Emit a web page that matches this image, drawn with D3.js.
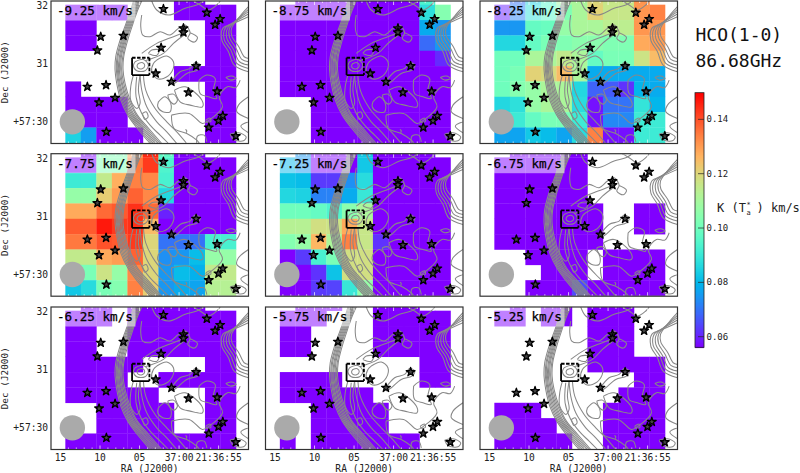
<!DOCTYPE html>
<html><head><meta charset="utf-8">
<script src="https://cdn.jsdelivr.net/npm/d3@7/dist/d3.min.js"></script>
<style>html,body{margin:0;padding:0;background:#fff}svg{display:block}text{font-family:"DejaVu Sans Mono",monospace;fill:#222}</style>
</head><body><svg id="c" width="800" height="473"></svg>
<script>
// velocity channels, km/s
const velocities = ["-9.25","-8.75","-8.25","-7.75","-7.25","-6.75","-6.25","-5.75","-5.25"];
const _ = null, p = 0.056;
// integrated intensity K km/s: row 0 is the clipped top row, 11 columns
const ch925 = [
[_,_,_,_,_,_,_,p,p,_,_],[p,p,p,p,_,_,_,p,p,p,p],[p,p,_,_,_,_,_,_,_,p,p],[p,p,_,_,_,_,_,_,_,p,p],[_,_,_,_,_,_,_,_,_,p,p],
[_,_,_,_,_,_,_,p,p,p,p],[p,_,_,_,_,_,_,_,_,p,p],[p,p,p,p,_,_,_,_,_,p,p],[p,p,p,p,_,_,_,_,_,p,p],[.085,.076,p,p,p,_,_,_,_,p,p]];
const ch875 = [
[_,p,p,p,p,p,p,p,p,.094,_],[p,p,p,p,p,p,p,p,p,.088,.104],[p,p,p,p,p,p,p,p,p,.078,.075],[p,p,p,p,p,p,p,p,p,.069,.075],[p,p,p,p,p,p,p,p,p,p,.061],
[p,p,p,p,p,p,p,p,p,p,p],[p,p,p,p,p,p,p,p,p,p,p],[_,_,p,p,p,p,p,p,p,p,p],[_,_,p,p,p,p,p,p,p,p,p],[_,_,p,p,p,p,p,p,p,p,p]];
const ch825 = [
[_,.07,.085,.095,.11,.111,.12,.116,.116,.131,_],[.06,.072,.088,.095,.103,.111,.121,.116,.116,.131,.134],
[.075,.075,.098,.099,.107,.111,.111,.114,.114,.131,.131],[.086,.086,.098,.102,.103,.105,.105,.103,.103,.128,.13],
[.1,.1,.111,.111,.115,.111,.098,.102,.102,.117,.125],[.1,.102,.121,.119,.125,.111,.078,.078,.078,.078,.078],
[.1,.104,.107,.111,.111,.086,.068,.067,.062,.08,.078],[.086,.088,.107,.111,.111,.087,.058,.07,.07,.089,.08],
[.091,.091,.098,.102,.102,.091,.058,.073,.073,.091,.091],[.077,.077,.083,.081,.077,.087,.134,.058,.058,.091,.091]];
const ch775 = [
[_,p,.103,.103,.13,.145,.097,p,p,_,_],[p,p,.103,.103,.135,.143,.094,p,p,p,p],
[.091,.091,.115,.127,.134,.133,.093,p,p,p,p],[.107,.107,.122,.13,.138,.133,.086,p,p,p,p],
[.128,.128,.137,.139,.144,.137,.06,p,p,p,p],[.139,.139,.147,.143,.144,.125,p,p,p,p,p],
[.135,.135,.14,.139,.143,.12,.07,.07,.07,.093,.093],[.115,.115,.128,.13,.138,.12,.074,.075,.081,.107,.107],
[.102,.102,.117,.107,.133,.12,.075,.081,.079,.115,.115],[.083,.087,.102,.104,.134,.122,.075,.078,.077,.113,.113]];
const ch725 = [
[_,.075,p,p,p,.083,p,p,p,p,_],[.08,.075,p,p,p,.083,p,p,p,p,p],
[.082,.081,.063,.063,.074,.087,p,p,p,p,p],[.086,.085,.072,.072,.078,.09,p,p,p,p,p],
[.1,.1,.098,.094,.105,.111,p,p,p,p,p],[.113,.113,.118,.117,.128,.116,p,p,p,p,p],
[.104,.107,.126,.111,.134,.116,.062,p,p,p,p],[p,.063,.093,.102,.118,.118,p,p,p,p,p],
[p,p,.062,.082,.118,.118,p,p,p,p,p],[p,p,.063,.064,.09,.107,p,p,p,p,p]];
const ch675 = [
[_,p,p,p,p,p,_,_,_,_,_],[p,p,p,p,p,p,_,_,_,_,_],[p,p,p,p,p,p,_,_,_,_,_],[p,p,p,p,p,p,_,_,_,_,_],[p,p,p,p,p,p,p,_,_,p,p],
[p,p,p,p,p,p,p,_,_,p,p],[p,p,p,p,p,p,p,_,_,_,_],[_,_,p,p,p,p,_,p,p,p,p],[_,_,_,p,p,p,_,p,p,p,p],[_,_,p,p,p,.065,p,p,p,p,p]];
const ch625 = [
[_,p,p,_,p,p,p,p,p,_,_],[p,p,p,_,p,p,p,p,p,p,p],[p,p,_,_,p,p,p,p,p,p,p],[p,p,_,_,p,p,p,p,p,p,p],[p,p,p,p,p,_,_,_,_,p,p],
[p,p,p,p,_,_,p,p,p,p,p],[p,p,p,p,p,p,_,_,_,p,p],[_,_,p,p,p,p,p,_,_,p,p],[_,_,p,p,p,p,p,_,_,p,p],[p,p,p,p,p,p,p,p,p,p,p]];
const ch575 = [
[_,p,p,p,_,_,p,p,p,_,_],[p,p,p,_,_,_,p,p,p,p,p],[p,p,_,_,_,_,p,p,p,p,p],[p,p,_,_,_,_,p,p,p,p,p],[_,_,_,_,_,_,_,_,_,p,p],
[p,p,p,p,_,_,_,_,_,p,p],[p,p,p,p,p,p,_,_,_,_,_],[_,_,p,p,p,p,p,_,_,_,_],[_,_,p,p,p,p,p,_,_,_,_],[p,_,p,p,p,p,p,p,p,_,_]];
const ch525 = [
[_,p,_,p,p,_,p,p,p,_,_],[p,p,_,p,p,_,p,p,p,_,_],[_,_,_,_,_,_,p,p,p,_,_],[_,_,_,_,_,_,p,p,p,_,_],[_,_,_,_,_,_,p,p,p,p,p],
[_,_,_,_,_,_,_,_,_,p,p],[_,_,_,_,_,_,_,_,p,p,p],[p,p,p,_,_,_,_,p,p,p,p],[p,p,p,p,_,_,_,p,p,p,p],[p,p,p,p,p,_,_,p,p,p,p]];
const channels = [ch925,ch875,ch825,ch775,ch725,ch675,ch625,ch575,ch525];

// sky positions in map units (1/3 arcsec-like offsets from the map origin)
const stars = [[490,27],[620,38],[660,57],[645,74],[550,85],[550,97],[302,110],[370,107],[292,151],[483,143],[588,198],[467,220],[514,245],[262,260],[318,255],[565,277],[651,274],[345,293],[297,307],[668,347],[655,362],[626,382],[319,395],[707,408]];
const ridgeY = [3,30,70,120,170,210,250,300,345,385,430];
const ridgeX = [
[400,392,378,360,347,345,350,362,383,412,450],[403,395,381,364,351,349,354,366,387,417,455],
[407,398,384,367,354,352,357,370,391,422,460],[410,401,387,370,358,355,360,374,395,427,465],
[414,404,390,373,361,358,364,378,399,431,470],[417,407,393,376,364,362,367,382,403,436,475],
[421,410,396,379,368,365,371,386,408,441,480],[425,413,399,383,371,369,375,390,412,446,485]];
const contours = [
[[405,185],[430,178],[445,195],[435,212],[410,212],[400,197],[405,185]],
[[415,190],[428,188],[434,197],[426,206],[414,204],[411,197],[415,190]],
[[400,225],[392,260],[392,300],[410,325],[420,310],[415,270],[420,225]],
[[410,230],[408,290],[425,340],[450,375],[480,405],[505,430]],
[[420,225],[425,270],[440,320],[470,365],[500,395],[530,430]],
[[430,225],[437,270],[465,325],[500,365],[530,395],[560,430]],
[[427,340],[438,335],[444,350],[434,358],[427,340]],
[[425,45],[422,78],[428,105],[450,110],[480,95],[510,105],[535,85],[555,75],[570,98],[563,115],[583,126],[592,112],[570,98]],
[[455,3],[470,30],[505,45],[555,25],[590,15],[610,3]],
[[580,3],[600,15],[625,30],[650,15],[660,3]],
[[425,160],[470,130],[520,110],[550,98]],
[[435,182],[490,160],[520,130],[552,105]],
[[445,160],[470,166],[477,150],[455,150],[445,160]],
[[470,180],[500,168],[520,185],[515,215],[490,235],[470,235],[455,215],[460,190],[470,180]],
[[510,250],[540,215],[570,205],[585,187],[600,195],[592,210],[560,220],[530,245],[515,255]],
[[475,305],[495,290],[512,310],[510,335],[488,335],[473,320],[475,305]],
[[503,285],[520,282],[532,300],[522,312],[508,300],[503,285]],
[[523,270],[555,260],[605,300],[607,320],[570,315],[540,305],[523,270]],
[[597,240],[620,225],[645,235],[640,270],[650,295],[625,290],[600,280],[597,240]],
[[677,232],[695,228],[708,235],[690,240],[677,232]],
[[514,345],[567,340],[607,370],[627,360],[667,320],[657,290],[682,260],[707,262],[720,240]],
[[514,345],[522,385],[560,400],[590,420],[598,430]],
[[590,430],[592,408],[612,405],[620,425]],
[[617,360],[630,354],[632,364],[620,366],[617,360]],
[[745,50],[700,70],[668,85],[665,120],[685,155],[702,195],[745,215]],
[[745,42],[705,65],[675,85],[672,118],[692,150],[710,190],[745,205]],
[[745,35],[710,60],[682,85],[680,115],[700,148],[718,185],[745,195]],
[[745,28],[715,55],[688,85],[688,112],[708,145],[725,178],[745,185]],
[[745,20],[720,48],[694,85],[695,108],[716,140],[732,170],[745,175]],
[[745,290],[715,315],[710,335],[745,355]],
[[745,365],[722,378],[745,398]],
[[690,402],[715,398],[738,410],[730,422],[700,418],[690,402]],
[[556,388],[560,392],[558,398]]
];
const sourceBox = [[396,173],[448,225]];
const beam = {x:217,y:365,r:38};
const raTicks = [15,10,5,0,-5];
const raLabels = ["15","10","05","37:00","21:36:55"];
const decTicks = [32,31,30];
const decLabels = ["32","31","+57:30"];
const cbTicks = [0.06,0.08,0.10,0.12,0.14];
const title = ["HCO(1-0)","86.68GHz"];

const svg = d3.select("#c");
const W = 197.5, H = 142.5;
const lefts = [51,265.5,480], tops = [1,153.7,307];
const sx = d3.scaleLinear().domain([153,745]).range([0,W]);
const sy = d3.scaleLinear().domain([3,430]).range([0,H]);
const colX = d3.scaleLinear().domain([0,11]).range([196,707.5]);
const rowY = d3.scaleLinear().domain([0,10]).range([-32,428]);
const raX = d3.scaleLinear().domain([15,-5]).range([9.5,167.6]);
const decY = d3.scaleLinear().domain([32,30]).range([4.5,120.5]);
const vmin = 0.0561, vmax = 0.1498;
const rainbow = t => d3.rgb(255*Math.abs(2*t-0.5), 255*Math.sin(Math.PI*t), 255*Math.cos(Math.PI*t/2)).formatRgb();
const color = d3.scaleSequential(rainbow).domain([vmin,vmax]).clamp(true);
const line = d3.line().x(d=>sx(d[0])).y(d=>sy(d[1])).curve(d3.curveCatmullRom.alpha(0.5));
const ridges = ridgeX.map(xs=>xs.map((x,i)=>[x,ridgeY[i]]));

const defs = svg.append("defs");
defs.append("clipPath").attr("id","pc").append("rect").attr("width",W).attr("height",H);

channels.forEach((grid,k)=>{
  const c = k%3, r = Math.floor(k/3);
  const g = svg.append("g").attr("transform",`translate(${lefts[c]},${tops[r]})`);
  const m = g.append("g").attr("clip-path","url(#pc)");
  grid.forEach((row,j)=>row.forEach((v,i)=>{
    if(v===null) return;
    m.append("rect").attr("x",sx(colX(i))).attr("y",sy(rowY(j)))
      .attr("width",sx(colX(i+1))-sx(colX(i))+0.3).attr("height",sy(rowY(j+1))-sy(rowY(j))+0.3)
      .attr("fill",v<=p?"#8000ff":color(v));
  }));
  [...ridges,...contours].forEach(d=>m.append("path").attr("d",line(d)).attr("fill","none").attr("stroke","#888").attr("stroke-width",1.05));
  m.append("circle").attr("cx",sx(beam.x)).attr("cy",sy(beam.y)).attr("r",sx(beam.x+beam.r)-sx(beam.x)).attr("fill","#aaa");
  stars.forEach(s=>m.append("path").attr("d",d3.symbol(d3.symbolStar,24)()).attr("transform",`translate(${sx(s[0])},${sy(s[1])})`).attr("fill","#444").attr("stroke","#000").attr("stroke-width",1.3).attr("stroke-linejoin","round"));
  // source box
  const bx0=sx(sourceBox[0][0]),bx1=sx(sourceBox[1][0]),by0=sy(sourceBox[0][1]),by1=sy(sourceBox[1][1]);
  [[bx0,by0,bx0,by1,null],[bx0,by1,bx1,by1,null],[bx0,by0,bx1,by0,"3.5 1.5"],[bx1,by0,bx1,by1,"3.5 1.5"]].forEach(a=>
    m.append("line").attr("x1",a[0]).attr("y1",a[1]).attr("x2",a[2]).attr("y2",a[3]).attr("stroke","#000").attr("stroke-width",1.8).attr("stroke-dasharray",a[4]));
  // white inward ticks
  d3.range(-5,16).forEach(t=>{
    const major = raTicks.includes(t), len = major?4:2;
    [[0,len],[H,H-len]].forEach(e=>m.append("line").attr("x1",raX(t)).attr("x2",raX(t)).attr("y1",e[0]).attr("y2",e[1]).attr("stroke","#fff").attr("stroke-width",0.7));
  });
  decTicks.forEach(t=>{
    [[0,4],[W,W-4]].forEach(e=>m.append("line").attr("x1",e[0]).attr("x2",e[1]).attr("y1",decY(t)).attr("y2",decY(t)).attr("stroke","#fff").attr("stroke-width",0.7));
  });
  // channel label
  m.append("rect").attr("width",84.5).attr("height",19.5).attr("fill","#fff").attr("opacity",0.5);
  g.append("text").attr("x",6).attr("y",14).attr("font-size",12.6).style("fill","#000").style("stroke","#000").style("stroke-width",0.25).text(velocities[k]+" km/s");
  g.append("rect").attr("width",W).attr("height",H).attr("fill","none").attr("stroke","#333").attr("stroke-width",1.2);
  if(c===0){
    decTicks.forEach((t,i)=>g.append("text").attr("x",-3).attr("y",decY(t)+3.5).attr("text-anchor","end").attr("font-size",9.6).text(decLabels[i]));
    g.append("text").attr("transform",`translate(-43,${H/2}) rotate(-90)`).attr("text-anchor","middle").attr("font-size",9.4).text("Dec (J2000)");
  }
  if(r===2){
    raTicks.forEach((t,i)=>g.append("text").attr("x",raX(t)).attr("y",H+11).attr("text-anchor","middle").attr("font-size",9.6).text(raLabels[i]));
    g.append("text").attr("x",W/2).attr("y",H+22).attr("text-anchor","middle").attr("font-size",9.6).text("RA (J2000)");
  }
});

// title
title.forEach((t,i)=>svg.append("text").attr("x",695.5).attr("y",41+i*26).attr("font-size",18).style("fill","#111").text(t));

// colourbar
const cbY = d3.scaleLinear().domain([vmin,vmax]).range([347.3,92.7]);
const cb = svg.append("g");
d3.range(0,255).forEach(i=>{
  cb.append("rect").attr("x",695).attr("y",92.7+i).attr("width",9).attr("height",1.4).attr("fill",color(cbY.invert(92.7+i)));
});
cb.append("rect").attr("x",695).attr("y",92.7).attr("width",9).attr("height",254.6).attr("fill","none").attr("stroke","#222").attr("stroke-width",0.8);
cbTicks.forEach(t=>{
  cb.append("line").attr("x1",698).attr("x2",704).attr("y1",cbY(t)).attr("y2",cbY(t)).attr("stroke","#222").attr("stroke-width",0.7);
  cb.append("text").attr("x",706.5).attr("y",cbY(t)+3).attr("font-size",9).text(t.toFixed(2));
});
svg.append("text").attr("x",717).attr("y",212).attr("font-size",12).text("K (T");
svg.append("text").attr("x",746.5).attr("y",214.5).attr("font-size",7).text("a");
svg.append("text").attr("x",746.5).attr("y",206.5).attr("font-size",7).text("*");
svg.append("text").attr("x",756.5).attr("y",212).attr("font-size",12).text(") km/s");
</script></body></html>
